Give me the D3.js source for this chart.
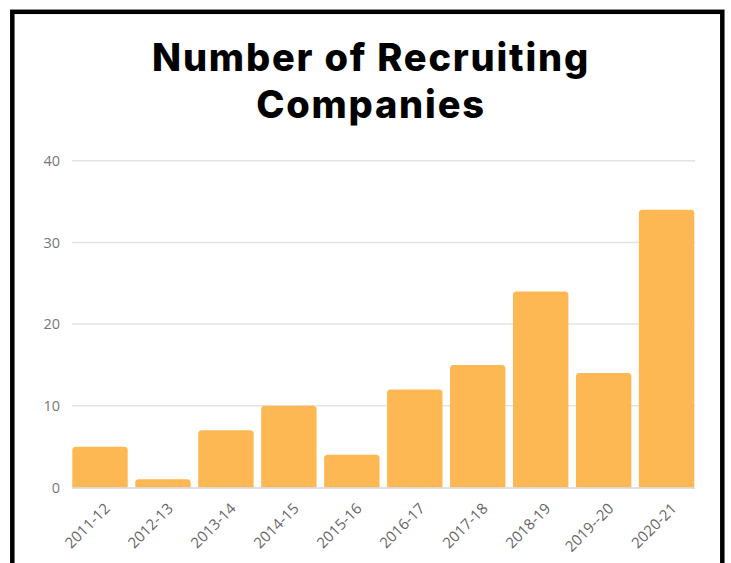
<!DOCTYPE html>
<html>
<head>
<meta charset="utf-8">
<script src="https://cdn.jsdelivr.net/npm/d3@7"></script>
<style>
  html, body { margin: 0; padding: 0; background: #fff; }
  svg { display: block; }
</style>
</head>
<body>
<svg id="chart" width="731" height="563"></svg>
<script>
const categories = ["2011-12","2012-13","2013-14","2014-15","2015-16","2016-17","2017-18","2018-19","2019--20","2020-21"];
const companies = [5, 1, 7, 10, 4, 12, 15, 24, 14, 34];
const yTicks = [0, 10, 20, 30, 40];
const titleLines = ["Number of Recruiting", "Companies"];

const svg = d3.select("#chart");

// frame
svg.append("rect")
  .attr("x", 12.3).attr("y", 11.8)
  .attr("width", 710).attr("height", 600)
  .attr("fill", "none").attr("stroke", "#000").attr("stroke-width", 4.5);

// title
const title = svg.append("text")
  .attr("text-anchor", "middle")
  .attr("font-family", "Inter, 'Noto Sans', sans-serif")
  .attr("font-weight", 800)
  .attr("font-size", 38)
  .attr("letter-spacing", 1.8)
  .attr("fill", "#000");
titleLines.forEach((t, i) => {
  title.append("tspan").attr("x", 371).attr("y", 71 + i * 46.5).text(t);
});

const x = d3.scaleBand().domain(categories).range([72.3, 694.3]).paddingInner(0.12).paddingOuter(0);
const y = d3.scaleLinear().domain([0, 40]).range([487.5, 160.7]);

// grid
svg.append("g").selectAll("line").data(yTicks.filter(d => d > 0)).join("line")
  .attr("x1", 72).attr("x2", 695)
  .attr("y1", d => y(d)).attr("y2", d => y(d))
  .attr("stroke", "#e3e3e3").attr("stroke-width", 1.5);

// y axis labels
const yAxis = svg.append("g").attr("transform", "translate(60,0)")
  .call(d3.axisLeft(y).tickValues(yTicks).tickSize(0).tickPadding(0));
yAxis.select(".domain").remove();
yAxis.selectAll("text")
  .attr("font-family", "'Open Sans', sans-serif")
  .attr("font-size", 14.5)
  .attr("fill", "#777");

// bars with rounded top
const r = 3.5;
svg.append("g").selectAll("path").data(companies).join("path")
  .attr("fill", "#FDB853")
  .attr("d", (d, i) => {
    const x0 = x(categories[i]), w = x.bandwidth();
    const y0 = y(d), yb = y(0);
    const rr = Math.min(r, (yb - y0));
    return `M${x0},${yb}V${y0 + rr}Q${x0},${y0} ${x0 + rr},${y0}H${x0 + w - rr}Q${x0 + w},${y0} ${x0 + w},${y0 + rr}V${yb}Z`;
  });

// baseline
svg.append("line")
  .attr("x1", 72).attr("x2", 695)
  .attr("y1", y(0) + 0.5).attr("y2", y(0) + 0.5)
  .attr("stroke", "#d6d6d6").attr("stroke-width", 1.5);

// x axis labels
const xAxis = svg.append("g").attr("transform", `translate(0,${y(0)})`)
  .call(d3.axisBottom(x).tickSize(0).tickPadding(0));
xAxis.select(".domain").remove();
xAxis.selectAll("text")
  .attr("font-family", "'Open Sans', sans-serif")
  .attr("font-size", 15)
  .attr("fill", "#666")
  .attr("text-anchor", "end")
  .attr("dy", "0")
  .attr("transform", "translate(11,22) rotate(-45)");
</script>
</body>
</html>
